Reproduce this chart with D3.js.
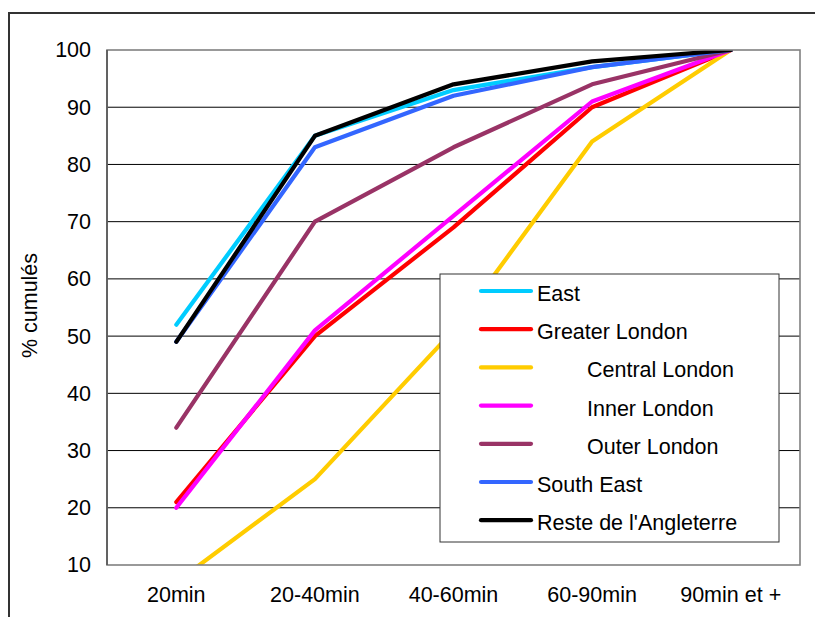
<!DOCTYPE html>
<html>
<head>
<meta charset="utf-8">
<script src="https://cdn.jsdelivr.net/npm/d3@7"></script>
<style>
  html, body { margin: 0; padding: 0; background: #fff; }
  svg { display: block; font-family: "Liberation Sans", Arial, sans-serif; }
</style>
</head>
<body>
<svg id="chart" width="815" height="617"></svg>
<script>
// ---- data ----
const categories = ["20min", "20-40min", "40-60min", "60-90min", "90min et +"];
const seriesNames = ["East", "Greater London", "Central London", "Inner London", "Outer London", "South East", "Reste de l'Angleterre"];
const seriesColors = ["#00CCFF", "#FF0000", "#FFCC00", "#FF00FF", "#993366", "#3366FF", "#000000"];
const legendIndent = [false, false, true, true, true, false, false];
const eastValues = [52, 85, 93, 97, 100];
const greaterLondonValues = [21, 50, 69, 90, 100];
const centralLondonValues = [7, 25, 51, 84, 100];
const innerLondonValues = [20, 51, 71, 91, 100];
const outerLondonValues = [34, 70, 83, 94, 100];
const southEastValues = [49, 83, 92, 97, 100];
const resteValues = [49, 85, 94, 98, 100];
const allValues = [eastValues, greaterLondonValues, centralLondonValues, innerLondonValues, outerLondonValues, southEastValues, resteValues];
const yTicks = [10, 20, 30, 40, 50, 60, 70, 80, 90, 100];
const yTitle = "% cumulés";

// ---- layout ----
const svg = d3.select("#chart");
const plot = { left: 107, right: 800, top: 50, bottom: 565 };
const fontSize = 21.5;

// outer frame (extends past the picture edges)
svg.append("rect")
  .attr("x", 9).attr("y", 13)
  .attr("width", 900).attr("height", 700)
  .attr("fill", "none").attr("stroke", "#333").attr("stroke-width", 2);

const x = d3.scaleBand().domain(categories).range([plot.left, plot.right]).paddingInner(0).paddingOuter(0);
const y = d3.scaleLinear().domain([10, 100]).range([plot.bottom, plot.top]);

// gridlines
svg.append("g").selectAll("line").data(yTicks.filter(t => t > 10 && t < 100)).join("line")
  .attr("x1", plot.left).attr("x2", plot.right)
  .attr("y1", d => y(d)).attr("y2", d => y(d))
  .attr("stroke", "#000").attr("stroke-width", 1);

// y axis labels
const yAxis = d3.axisLeft(y).tickValues(yTicks).tickSize(0).tickPadding(16);
const gy = svg.append("g").attr("transform", `translate(${plot.left},0)`).call(yAxis);
gy.select(".domain").remove();
gy.selectAll("text").attr("font-size", fontSize).attr("font-family", "Liberation Sans, Arial, sans-serif").attr("fill", "#000");

// x axis labels
const xAxis = d3.axisBottom(x).tickSize(0).tickPadding(22);
const gx = svg.append("g").attr("transform", `translate(0,${plot.bottom})`).call(xAxis);
gx.select(".domain").remove();
gx.selectAll("text").attr("font-size", fontSize).attr("font-family", "Liberation Sans, Arial, sans-serif").attr("fill", "#000");

// y title
svg.append("text")
  .attr("transform", `translate(37,${(plot.top + plot.bottom) / 2 - 2}) rotate(-90)`)
  .attr("text-anchor", "middle")
  .attr("font-size", fontSize)
  .text(yTitle);

// clip
svg.append("clipPath").attr("id", "clip").append("rect")
  .attr("x", plot.left).attr("y", plot.top)
  .attr("width", plot.right - plot.left).attr("height", plot.bottom - plot.top);

// lines
const line = d3.line().x((d, i) => x(categories[i]) + x.bandwidth() / 2).y(d => y(d));
svg.append("g").attr("clip-path", "url(#clip)")
  .selectAll("path").data(allValues).join("path")
  .attr("d", d => line(d))
  .attr("fill", "none")
  .attr("stroke", (d, i) => seriesColors[i])
  .attr("stroke-width", 4.2)
  .attr("stroke-linejoin", "round")
  .attr("stroke-linecap", "round");

// plot border
svg.append("rect")
  .attr("x", plot.left).attr("y", plot.top)
  .attr("width", plot.right - plot.left).attr("height", plot.bottom - plot.top)
  .attr("fill", "none").attr("stroke", "#808080").attr("stroke-width", 1.6);
svg.append("line")
  .attr("x1", plot.left).attr("x2", plot.left).attr("y1", plot.top).attr("y2", plot.bottom)
  .attr("stroke", "#555").attr("stroke-width", 1.6);

// legend
const lg = { x: 440, y: 274, w: 339, h: 268, firstRow: 291, rowStep: 38.2 };
svg.append("rect")
  .attr("x", lg.x).attr("y", lg.y).attr("width", lg.w).attr("height", lg.h)
  .attr("fill", "#fff").attr("stroke", "#333").attr("stroke-width", 1);
const items = svg.append("g").selectAll("g").data(seriesNames).join("g")
  .attr("transform", (d, i) => `translate(0,${lg.firstRow + i * lg.rowStep})`);
items.append("line")
  .attr("x1", 481).attr("x2", 531).attr("y1", 0).attr("y2", 0)
  .attr("stroke", (d, i) => seriesColors[i]).attr("stroke-width", 4.2)
  .attr("stroke-linecap", "round");
items.append("text")
  .attr("x", (d, i) => legendIndent[i] ? 587 : 537)
  .attr("y", 10)
  .attr("font-size", fontSize)
  .attr("fill", "#000")
  .text(d => d);
</script>
</body>
</html>
